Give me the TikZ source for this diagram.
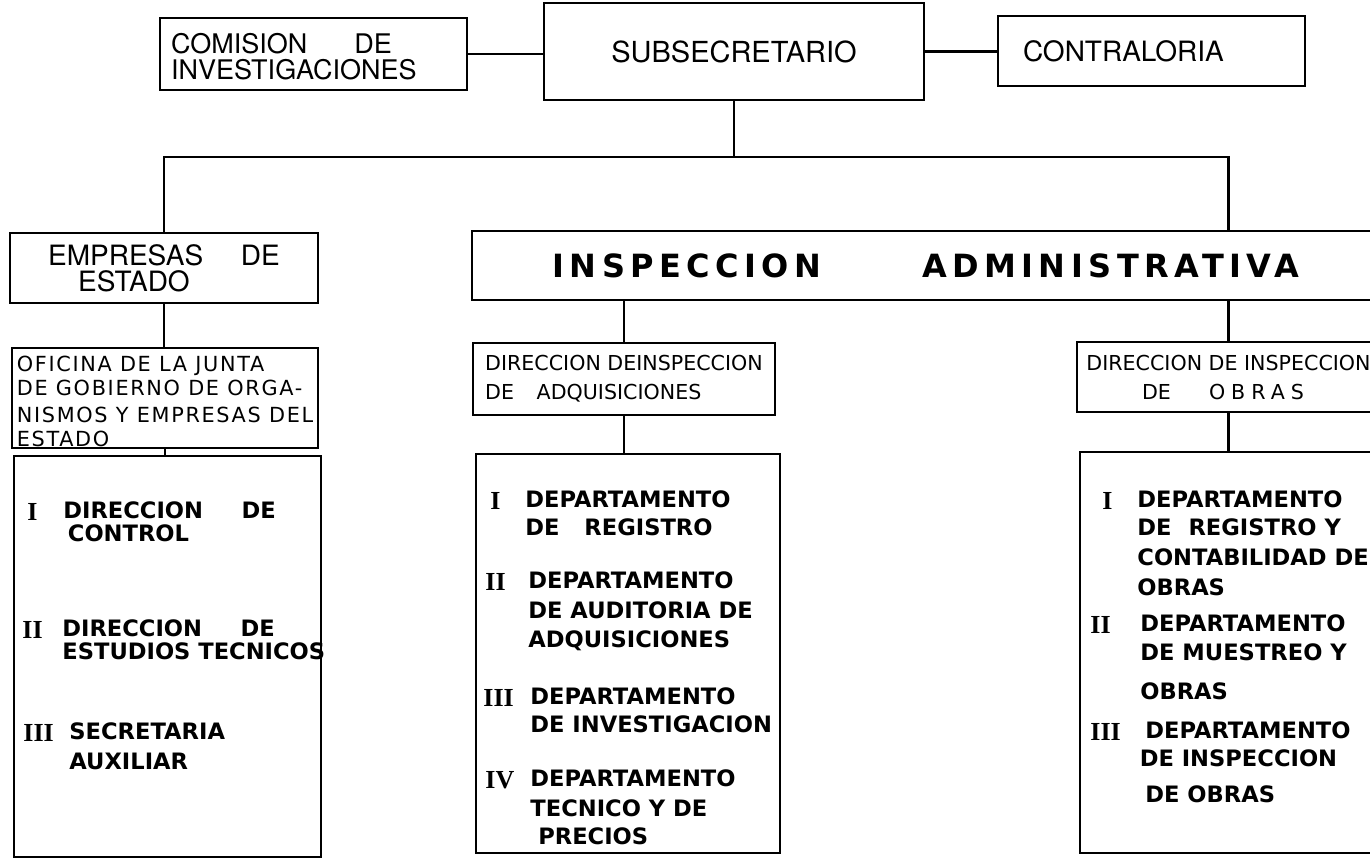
\documentclass[tikz,border=0pt]{standalone}
\usepackage{fontspec}
\setmainfont{TeX Gyre Heros}
\newfontfamily\lowfont{DejaVu Sans}
\newfontfamily\widefont[LetterSpace=17]{DejaVu Sans}
\newfontfamily\spacedfont[LetterSpace=8]{DejaVu Sans}
\newfontfamily\numfont{Liberation Serif}
\usetikzlibrary{positioning}

\begin{document}
\begin{tikzpicture}[x=0.5pt, y=-0.5pt,
  box/.style={draw, line width=1pt, inner sep=0pt},
  link/.style={line width=1.3pt},
  item/.style={anchor=north west, inner sep=0pt, align=left, font={\lowfont\bfseries\fontsize{11.3}{14.5}\selectfont}},
  numeral/.style={anchor=west, inner sep=0pt, yshift=-1.5pt, font={\numfont\bfseries\fontsize{13}{13}\selectfont}},
  small/.style={align=left, font={\lowfont\fontsize{10.3}{14.5}\selectfont}}]
    \fill[white] (0,0) rectangle (1370,859);
    \clip (0,0) rectangle (1370,859);

    \node[box, minimum width=153.5pt, minimum height=36pt, text width=142.5pt, align=left,
      font={\fontsize{13.5}{13}\selectfont}] (comision) at (313.5,54) {\rule{0pt}{13pt}COMISION\hspace{1.75em}DE\\INVESTIGACIONES};
    \node[box, minimum width=190pt, minimum height=48.5pt,
      font={\fontsize{14.5}{14}\selectfont}] (subsec) at (734,51.5) {SUBSECRETARIO};
    \node[box, minimum width=153.5pt, minimum height=35pt, text width=128.5pt, align=left,
      font={\fontsize{14}{14}\selectfont}] (contra) at (1151.5,51) {CONTRALORIA};
    \coordinate (hub) at (subsec.south |- 0,157);

    \node[box, minimum width=154pt, minimum height=35pt, align=left,
      font={\fontsize{14}{13}\selectfont}] (empresas) at (164,268) {EMPRESAS\hspace{1.35em}DE\\\hspace*{1.07em}ESTADO};
    \node[box, minimum width=454pt, minimum height=34.5pt,
      font={\widefont\bfseries\fontsize{16}{16}\selectfont}] (insp) at (926,265.5) {INSPECCION\hspace{3.15em}ADMINISTRATIVA};

    \node[box, minimum width=153pt, minimum height=50pt, align=left,
      font={\spacedfont\fontsize{10.4}{12}\selectfont}] (oficina) at (165,398)
      {\rule{0pt}{11pt}OFICINA DE LA JUNTA\\DE GOBIERNO DE ORGA-\\[1.5pt]NISMOS Y EMPRESAS DEL\\ESTADO};
    \node[box, small, minimum width=151pt, minimum height=36pt] (dirAdq) at (624,379)
      {DIRECCION DEINSPECCION\\DE\hspace{1.1em}ADQUISICIONES};
    \node[box, small, minimum width=151.5pt, minimum height=35pt] (dirObras) at (1228.5,377)
      {DIRECCION DE INSPECCION\\\hspace*{2.7em}DE\hspace{1.85em}{\addfontfeature{LetterSpace=29}OBRAS}};

    \node[box, minimum width=153.5pt, minimum height=200.5pt] (listEmp) at (167,656) {};
    \node[box, minimum width=152pt, minimum height=199.5pt] (listAdq) at (628,653.5) {};
    \node[box, minimum width=150pt, minimum height=200.5pt] (listObras) at (1230,652.5) {};

    \draw[link] (comision.east) -- (comision.east -| subsec.west);
    \draw[link] (subsec.east) -- (subsec.east -| contra.west);
    \draw[link] (subsec.south) -- (hub);
    \draw[link] (empresas.north) |- (hub) -| (dirObras.north |- insp.north);
    \draw[link] (empresas.south) -- (empresas.south |- oficina.north);
    \draw[link] (oficina.south) -- (oficina.south |- listEmp.north);
    \draw[link] (insp.south -| dirAdq.north) -- (dirAdq.north);
    \draw[link] (dirAdq.south) -- (dirAdq.south |- listAdq.north);
    \draw[link] (insp.south -| dirObras.north) -- (dirObras.north);
    \draw[link] (dirObras.south) -- (dirObras.south |- listObras.north);

    \node[numeral] (numE1) at (27,509) {I};
    \node[item] (txtE1) at (63,501) {DIRECCION\hspace{1.7em}DE\\[-3pt]\hspace*{0.2em}CONTROL};
    \node[numeral] (numE2) at (22,627) {II};
    \node[item] (txtE2) at (62,619) {DIRECCION\hspace{1.7em}DE\\[-3pt]ESTUDIOS TECNICOS};
    \node[numeral] (numE3) at (23,730) {III};
    \node[item] (txtE3) at (69,722) {SECRETARIA\\[0.5pt]AUXILIAR};

    \node[numeral] (numA1) at (490,498) {I};
    \node[item] (txtA1) at (525,490) {DEPARTAMENTO\\[-0.5pt]DE\hspace{1.1em}REGISTRO};
    \node[numeral] (numA2) at (485,579) {II};
    \node[item] (txtA2) at (528,571) {DEPARTAMENTO\\[0.5pt]DE AUDITORIA DE\\ADQUISICIONES};
    \node[numeral] (numA3) at (483,695) {III};
    \node[item] (txtA3) at (530,687) {DEPARTAMENTO\\[-0.5pt]DE INVESTIGACION};
    \node[numeral] (numA4) at (485,777) {IV};
    \node[item] (txtA4) at (530,769) {DEPARTAMENTO\\[0.5pt]TECNICO Y DE\\[-0.5pt]\hspace*{0.35em}PRECIOS};

    \node[numeral] (numO1) at (1102,498) {I};
    \node[item] (txtO1) at (1137,490) {DEPARTAMENTO\\[-0.5pt]DE\hspace{0.75em}REGISTRO Y\\[0.5pt]CONTABILIDAD DE\\[0.5pt]OBRAS};
    \node[numeral] (numO2) at (1090,622) {II};
    \node[item] (txtO2) at (1140,614) {DEPARTAMENTO\\DE MUESTREO Y\\[5pt]OBRAS};
    \node[numeral] (numO3) at (1090,729) {III};
    \node[item] (txtO3) at (1145,721) {DEPARTAMENTO\\[-0.5pt]\hspace*{-0.25em}DE INSPECCION\\[3.5pt]DE OBRAS};
\end{tikzpicture}
\end{document}
